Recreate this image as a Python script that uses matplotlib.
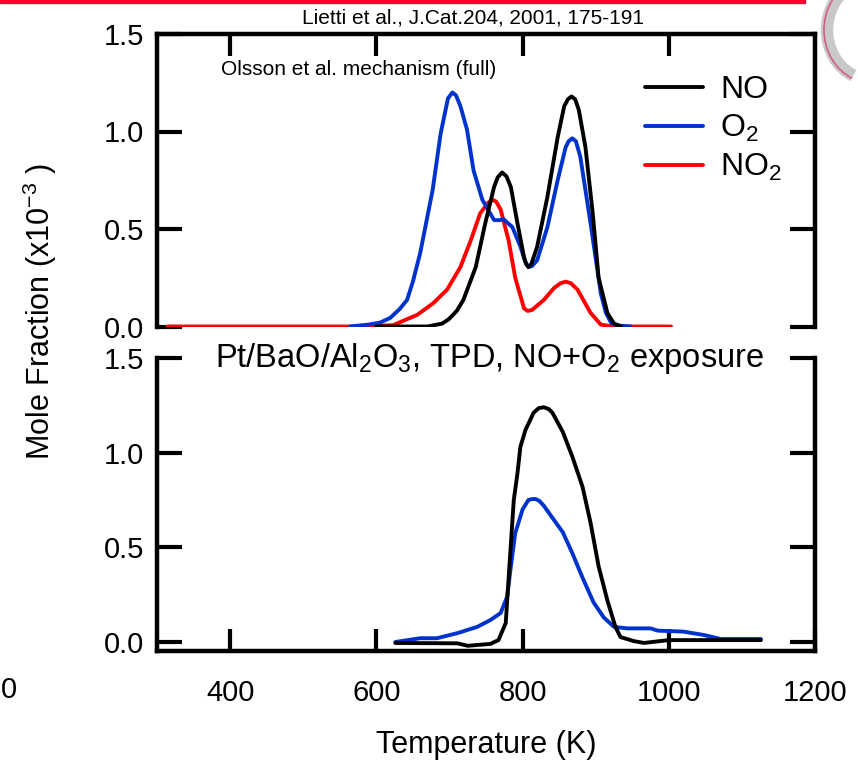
import numpy as np
import matplotlib
matplotlib.use("Agg")
import matplotlib.pyplot as plt
from matplotlib.patches import Rectangle, Arc

plt.rcParams['font.family'] = ['Liberation Sans', 'DejaVu Sans']
plt.rcParams['mathtext.fontset'] = 'custom'
plt.rcParams['mathtext.rm'] = 'Liberation Sans'
plt.rcParams['mathtext.it'] = 'Liberation Sans'

# --- top panel: Olsson et al. mechanism (model) ---
t_no_top = [600, 670, 690, 699, 710, 719, 736, 749, 761, 766, 772, 778, 784, 793, 802,
            805, 808, 812, 820, 834, 848, 857, 862, 867, 872, 877, 886, 896, 904, 916,
            925, 935]
no_top = [0.0, 0.0, 0.015, 0.037, 0.08, 0.136, 0.305, 0.53, 0.715, 0.765, 0.79, 0.77,
          0.715, 0.53, 0.355, 0.32, 0.305, 0.32, 0.41, 0.665, 0.97, 1.13, 1.165, 1.18,
          1.165, 1.11, 0.92, 0.58, 0.25, 0.07, 0.015, 0.0]

t_o2_top = [564, 590, 605, 619, 632, 642, 650, 660, 677, 688, 698, 704, 709, 715, 724,
            733, 745, 761, 768, 774, 786, 797, 804, 808, 813, 820, 834, 848, 859, 863,
            868, 873, 879, 893, 907, 914, 921, 930, 948]
o2_top = [0.0, 0.01, 0.02, 0.044, 0.09, 0.136, 0.23, 0.377, 0.70, 0.99, 1.17, 1.20,
          1.185, 1.13, 1.01, 0.80, 0.65, 0.546, 0.545, 0.55, 0.51, 0.41, 0.33, 0.305,
          0.31, 0.34, 0.51, 0.75, 0.92, 0.95, 0.965, 0.95, 0.87, 0.53, 0.17, 0.07,
          0.02, 0.005, 0.0]

t_no2_top = [314, 578, 623, 656, 678, 697, 715, 729, 742, 753, 759, 764, 770, 781, 790,
             802, 807, 813, 829, 843, 852, 859, 866, 875, 893, 907, 920, 934, 1003]
no2_top = [0.0, 0.0, 0.007, 0.06, 0.12, 0.19, 0.305, 0.44, 0.58, 0.635, 0.65, 0.64,
           0.60, 0.44, 0.25, 0.093, 0.08, 0.085, 0.136, 0.197, 0.222, 0.23, 0.222,
           0.19, 0.07, 0.01, 0.002, 0.0, 0.0]

# --- bottom panel: Pt/BaO/Al2O3 TPD experiment ---
t_no_bot = [626, 711, 725, 756, 767, 777, 781, 785, 788, 793, 797, 804, 815, 822, 829,
            836, 841, 855, 868, 882, 893, 904, 916, 927, 934, 952, 966, 1000, 1126]
no_bot = [-0.005, -0.007, -0.02, -0.01, 0.01, 0.10, 0.34, 0.575, 0.75, 0.89, 1.03, 1.12,
          1.21, 1.235, 1.24, 1.23, 1.21, 1.11, 0.98, 0.82, 0.63, 0.40, 0.22, 0.08,
          0.026, 0.005, -0.005, 0.01, 0.01]

t_o2_bot = [626, 660, 683, 711, 738, 756, 770, 779, 784, 790, 800, 808, 813, 818, 823,
            829, 841, 855, 868, 882, 897, 911, 925, 943, 975, 985, 1020, 1048, 1071, 1126]
o2_bot = [0.0, 0.02, 0.02, 0.047, 0.08, 0.116, 0.153, 0.24, 0.40, 0.575, 0.70, 0.75,
          0.755, 0.755, 0.745, 0.72, 0.655, 0.58, 0.47, 0.34, 0.21, 0.13, 0.08, 0.072,
          0.072, 0.06, 0.055, 0.037, 0.016, 0.016]

x_ticks = [400, 600, 800, 1000, 1200]
y_ticks = [0.0, 0.5, 1.0, 1.5]

BLACK = '#000000'
BLUE = '#0033cc'
RED = '#ff0000'
LW = 2.8
line_kw = dict(lw=LW, solid_joinstyle='round', solid_capstyle='round')

fig = plt.figure(figsize=(8.58, 7.65), dpi=100)
W, H = 858, 765


def box(l, t, r, b):
    return [l / W, 1 - b / H, (r - l) / W, (b - t) / H]


ax1 = fig.add_axes(box(157, 34, 815, 326.5))
ax2 = fig.add_axes(box(157, 358, 815, 651))

ax1.plot(t_no2_top, no2_top, color=RED, label='NO$_2$', zorder=3, **line_kw)
ax1.plot(t_o2_top, o2_top, color=BLUE, label='O$_2$', zorder=4, **line_kw)
ax1.plot(t_no_top, no_top, color=BLACK, label='NO', zorder=5, **line_kw)

ax2.plot(t_o2_bot, o2_bot, color=BLUE, zorder=4, **line_kw)
ax2.plot(t_no_bot, no_bot, color=BLACK, zorder=5, **line_kw)

for ax in (ax1, ax2):
    ax.set_xlim(300, 1200)
    ax.set_yticks(y_ticks)
    for s in ax.spines.values():
        s.set_linewidth(3.2)
    ax.tick_params(axis='y', direction='in', length=18, width=3, right=True,
                   labelsize=21, pad=9)
    ax.tick_params(axis='x', direction='in', length=16, width=3, labelsize=21, pad=20)

ax1.set_ylim(0, 1.5)
ax1.spines['bottom'].set_visible(False)
ax1.set_xticks([400, 600, 800, 1000])
ax1.tick_params(axis='x', top=True, bottom=False, labelbottom=False)

ax2.set_ylim(-0.0475, 1.5)
ax2.spines['top'].set_visible(False)
ax2.set_xticks(x_ticks)
ax2.set_xticklabels(['400', '600', '800', '1000', '1200'])
ax2.tick_params(axis='x', top=False, bottom=True)

# legend in top panel (order NO, O2, NO2)
h, l = ax1.get_legend_handles_labels()
order = [2, 1, 0]
ax1.legend([h[i] for i in order], [l[i] for i in order], loc='upper left',
           bbox_to_anchor=(0.742, 0.86), frameon=False, fontsize=23,
           handlelength=1.8, handletextpad=0.55, labelspacing=0.25,
           borderpad=0, borderaxespad=0)

fig.text(221 / W, 1 - 75 / H, 'Olsson et al. mechanism (full)',
         fontsize=15, ha='left', va='baseline')
fig.text(490 / W, 1 - 367 / H, 'Pt/BaO/Al$_2$O$_3$, TPD, NO+O$_2$ exposure',
         fontsize=23.5, ha='center', va='baseline')
fig.text(473 / W, 1 - 24 / H, 'Lietti et al., J.Cat.204, 2001, 175-191',
         fontsize=15, ha='center', va='baseline')

fig.text(40 / W, 1 - 312 / H, 'Mole Fraction (x10$^{-3}$ )', rotation=90,
         fontsize=22, ha='center', va='center')
fig.text(486 / W, 1 - 745 / H, 'Temperature (K)', fontsize=22, ha='center', va='center')
fig.text(1 / W, 1 - 690 / H, '0', fontsize=21, ha='left', va='center')

# slide decoration: red rule at top and logo fragment at top right
fig.patches.append(Rectangle((0, 1 - 3 / H), 805 / W, 3 / H, transform=fig.transFigure,
                             color='#ff0030', zorder=10))
fig.patches.append(Arc((872 / W, 1 - 30 / H), 90 / W, 100 / H, theta1=110, theta2=250,
                       transform=fig.transFigure, color='#c8c8c8', lw=9, zorder=9))
fig.patches.append(Arc((872 / W, 1 - 30 / H), 96 / W, 106 / H, theta1=110, theta2=250,
                       transform=fig.transFigure, color='#d06080', lw=1.2, zorder=10))

fig.savefig('out.png', dpi=100)
